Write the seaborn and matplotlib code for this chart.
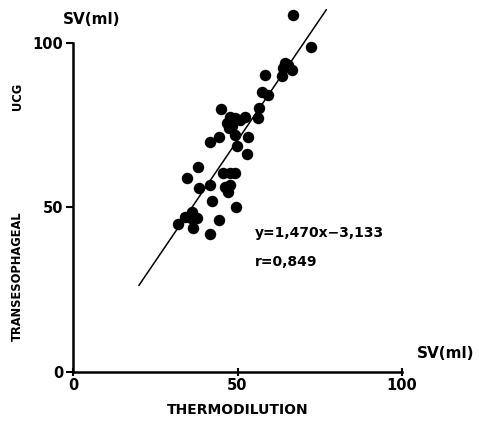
import numpy as np
import pandas as pd
import matplotlib
matplotlib.use('Agg')
import matplotlib.pyplot as plt
import seaborn as sns

# data (SV in ml)
thermo = [67.0, 72.3, 64.4, 65.4, 66.5, 63.9, 63.4, 58.4, 57.3, 59.4,
          45.0, 56.6, 56.3, 47.7, 49.2, 52.3, 50.8, 46.9, 48.2, 47.4,
          49.2, 53.1, 41.6, 44.5, 49.9, 53.0, 37.9, 34.7, 45.5, 47.7,
          49.2, 38.3, 41.6, 46.2, 47.7, 47.2, 42.2, 49.5, 36.1, 35.9,
          37.6, 34.0, 32.0, 36.6, 44.5, 41.6]
ucg = [108.5, 98.6, 93.8, 93.3, 91.8, 92.3, 89.8, 90.3, 85.2, 84.2,
       79.8, 80.1, 77.1, 77.6, 77.1, 77.6, 76.6, 75.6, 74.8, 74.1,
       72.0, 71.5, 70.0, 71.5, 68.5, 66.2, 62.4, 58.9, 60.6, 60.4,
       60.6, 56.0, 56.8, 56.3, 56.8, 54.8, 51.8, 50.1, 48.7, 46.7,
       46.7, 47.2, 45.0, 43.7, 46.2, 41.9]

slope = 1.470
intercept = -3.133
line_x = [20, 77]

df = pd.DataFrame({'thermo': thermo, 'ucg': ucg})

sns.set_style('white')
plt.rcParams['font.family'] = ['DejaVu Sans']
plt.rcParams['text.color'] = 'black'
plt.rcParams['xtick.color'] = 'black'
plt.rcParams['ytick.color'] = 'black'
plt.rcParams['xtick.bottom'] = True
plt.rcParams['ytick.left'] = True

fig = plt.figure(figsize=(4.79, 4.22), dpi=100)
ax = fig.add_axes([73/479, 50/422, 329/479, 372/422])

sns.scatterplot(x='thermo', y='ucg', data=df, ax=ax, color='black',
                s=68, edgecolor='black', linewidth=0, clip_on=False, zorder=3)
lx = np.array(line_x)
ax.plot(lx, slope * lx + intercept, color='black', lw=1.1, clip_on=False)

ax.set_xlim(0, 100)
ax.set_ylim(0, 113)
for s in ['top', 'right']:
    ax.spines[s].set_visible(False)
ax.spines['left'].set_bounds(0, 100)
ax.spines['bottom'].set_bounds(0, 100)
for s in ['left', 'bottom']:
    ax.spines[s].set_linewidth(1.8)
    ax.spines[s].set_color('black')

ax.set_xticks([0, 50, 100])
ax.set_yticks([0, 50, 100])
ax.tick_params(axis='y', left=True, direction='out', length=5, width=1.5,
               pad=2, labelsize=10.5, colors='black')
ax.tick_params(axis='x', bottom=True, direction='inout', length=6, width=1.5,
               pad=1, labelsize=10.5, colors='black')
for lab in ax.get_xticklabels() + ax.get_yticklabels():
    lab.set_fontweight('bold')
ax.set_xlabel('')
ax.set_ylabel('')

ax.text(5.8, 107, 'SV(ml)', ha='center', va='center', fontsize=11,
        fontweight='bold', clip_on=False)
ax.text(104.5, 5.5, 'SV(ml)', ha='left', va='center', fontsize=11,
        fontweight='bold', clip_on=False)
ax.text(50.2, -11.6, 'THERMODILUTION', ha='center', va='center',
        fontsize=10, fontweight='bold', clip_on=False)
ax.text(-17, 29.2, 'TRANSESOPHAGEAL', ha='center', va='center',
        rotation=90, fontsize=8.3, fontweight='bold', clip_on=False)
ax.text(-17, 83.6, 'UCG', ha='center', va='center',
        rotation=90, fontsize=8.3, fontweight='bold', clip_on=False)
ax.text(55.3, 42.2, 'y=1,470x\u22123,133', ha='left', va='center',
        fontsize=10, fontweight='bold')
ax.text(55.3, 33.4, 'r=0,849', ha='left', va='center',
        fontsize=10, fontweight='bold')

fig.savefig('out.png', dpi=100)
